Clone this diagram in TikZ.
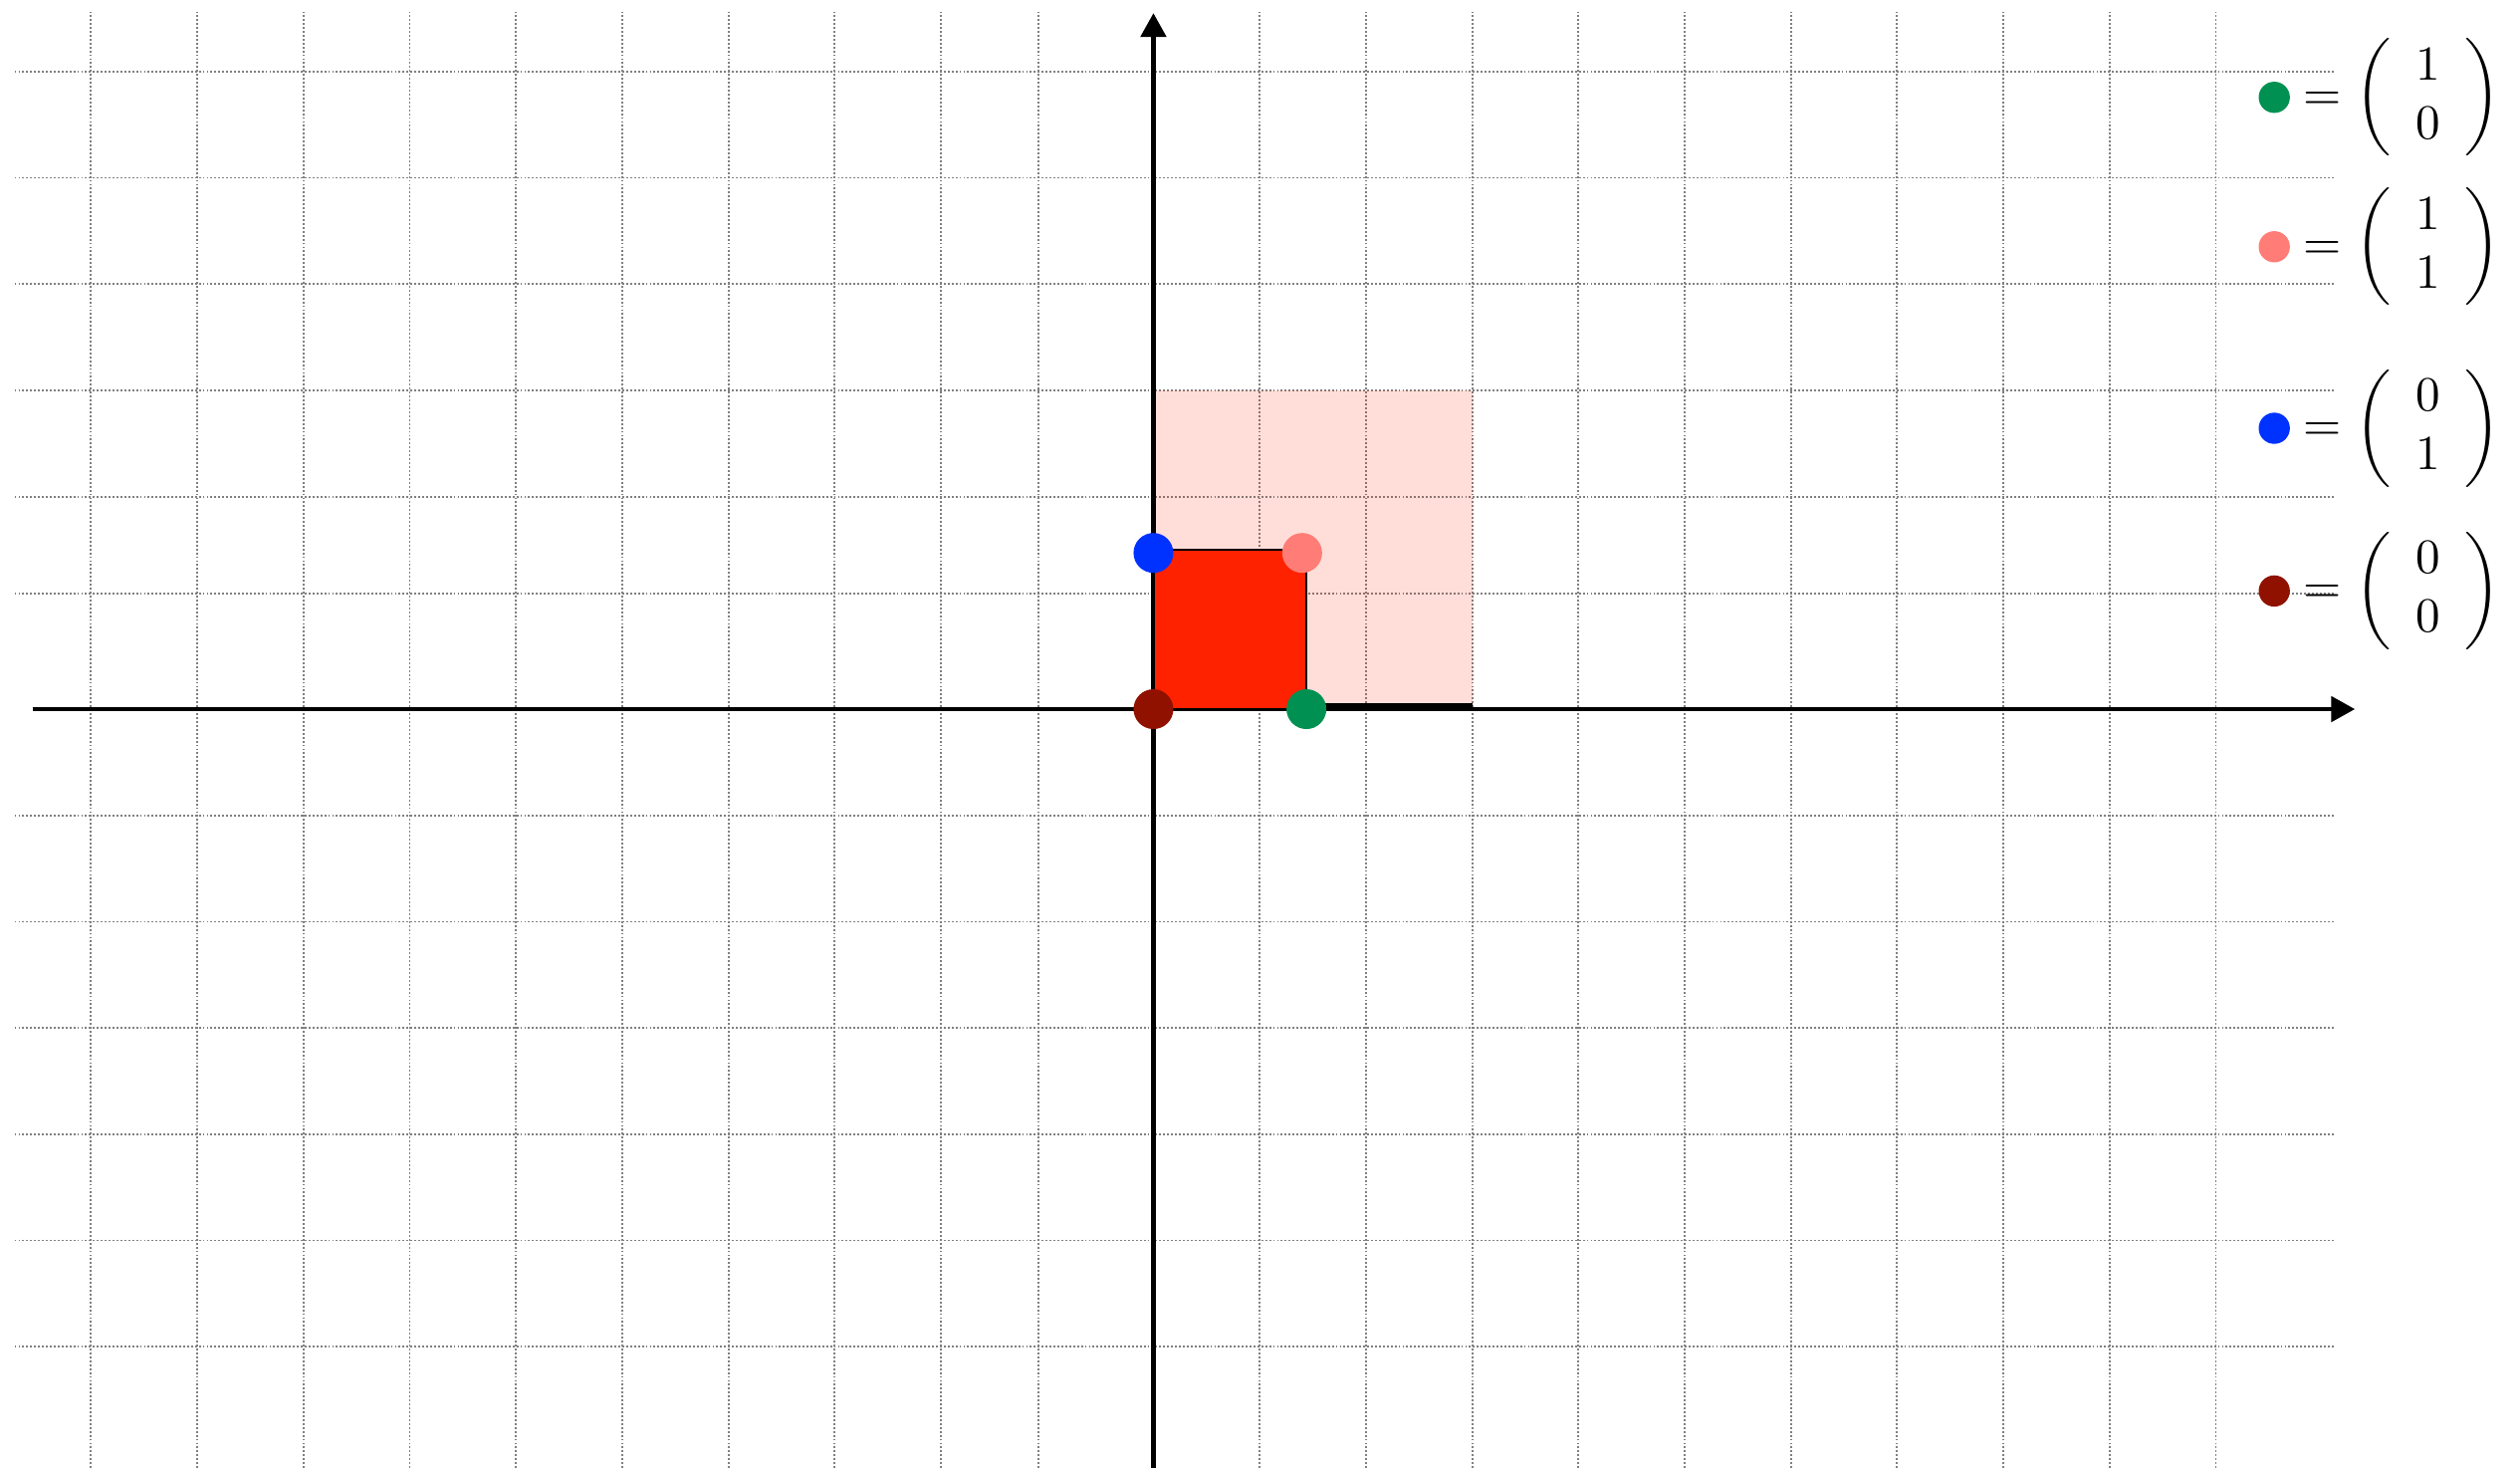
\documentclass[tikz,border=0pt]{standalone}
\usepackage{amsmath}
\usepackage{amsfonts}
\usepackage{amssymb}
\usepackage{tikz}
\usetikzlibrary{arrows.meta,positioning}

\definecolor{sqred}{RGB}{255,34,0}
\definecolor{dotgreen}{RGB}{0,145,82}
\definecolor{dotpink}{RGB}{255,125,118}
\definecolor{dotblue}{RGB}{0,50,255}
\definecolor{dotdark}{RGB}{145,17,0}

\begin{document}
\begin{tikzpicture}[line width = 1.3pt,
    gridline/.style = {gray, line width = 0.5pt, dash pattern = on 0.5pt off 0.55pt},
    axisline/.style = {-{Triangle[length = 6.4pt, width = 6.7pt]}},
    cornerdot/.style = {circle, fill = #1, inner sep = 0pt, minimum size = 0.375cm},
    legdot/.style = {circle, fill = #1, inner sep = 0pt, minimum size = 0.294cm},
    vec/.style = {inner sep = 0pt, scale = 1.31, transform shape}]
  \useasboundingbox (-10.857, -7.141) rectangle (12.863, 6.673);
  % grid
  \foreach \x in {-10, ..., -2, -1.08, 1, 2, ..., 10}
    \draw [gridline] (\x, -7.141) -- (\x, 6.56);
  \foreach \y in {-6, ..., -1, 1.09, 2, 3, ..., 6}
    \draw [gridline] (-10.72, \y) -- (11.12, \y);
  % image of the square
  \fill [sqred, fill opacity = 0.15] (0, 0) rectangle (3, 3);
  \draw [line width = 1.2pt] (0, 0.04) -- (3, 0.04);
  % axes
  \coordinate (xl) at (-10.55, 0);
  \coordinate (xr) at (11.31, 0);
  \coordinate (yb) at (0, -7.141);
  \coordinate (yt) at (0, 6.55);
  \draw [axisline] (xl) -- (xr);
  \draw [axisline] (yb) -- (yt);
  % unit square
  \filldraw [fill = sqred, draw = black, line width = 0.55pt] (0, 0) rectangle (1.44, 1.5);
  \node [cornerdot = dotdark] (o) at (0, 0){};
  \node [cornerdot = dotgreen] (e1) at (1.44, 0){};
  \node [cornerdot = dotblue] (e2) at (0, 1.47){};
  \node [cornerdot = dotpink] (e12) at (1.40, 1.47){};
  % legend
  \node [legdot = dotgreen] (k1) at (10.55, 5.757){};
  \node [legdot = dotpink] (k12) at (10.55, 4.351){};
  \node [legdot = dotblue] (k2) at (10.55, 2.643){};
  \node [legdot = dotdark] (k0) at (10.55, 1.112){};
  \node [vec, right = 0.075cm of k1] (v1) {$= \left( \begin{array}{c} 1 \\ 0 \end{array} \right)$};
  \node [vec, right = 0.075cm of k12] (v12) {$= \left( \begin{array}{c} 1 \\ 1 \end{array} \right)$};
  \node [vec, right = 0.075cm of k2] (v2) {$= \left( \begin{array}{c} 0 \\ 1 \end{array} \right)$};
  \node [vec, right = 0.075cm of k0] (v0) {$= \left( \begin{array}{c} 0 \\ 0 \end{array} \right)$};
\end{tikzpicture}
\end{document}
